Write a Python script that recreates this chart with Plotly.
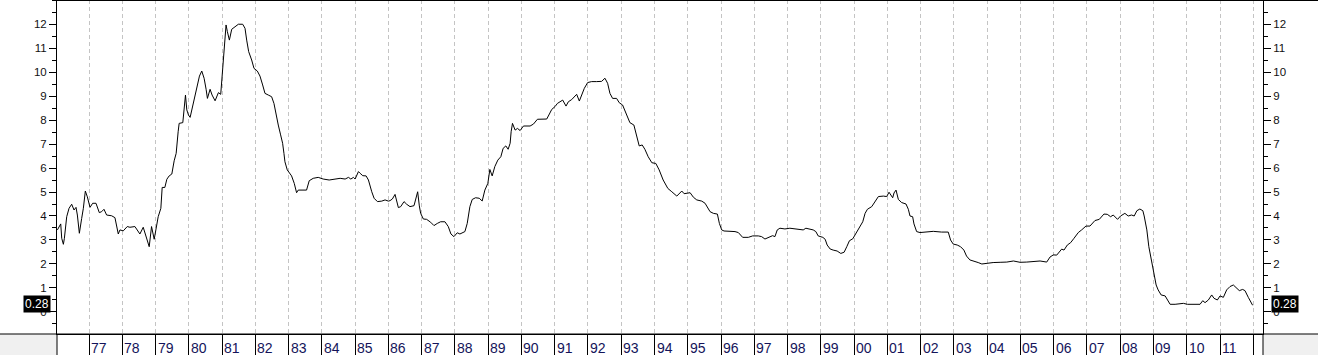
import plotly.graph_objects as go

# ---- data (decimal years, value) ----
years = [
    1976.05, 1976.11, 1976.15, 1976.18, 1976.23, 1976.26, 1976.33, 1976.40, 1976.48, 1976.55,
    1976.61, 1976.65, 1976.71, 1976.78, 1976.83, 1976.89, 1976.95, 1977.03, 1977.11, 1977.21,
    1977.31, 1977.38, 1977.45, 1977.53, 1977.68, 1977.78, 1977.83, 1977.88, 1977.93, 1978.03,
    1978.15, 1978.23, 1978.38, 1978.45, 1978.53, 1978.63, 1978.73, 1978.81, 1978.88, 1978.96,
    1979.01, 1979.08, 1979.16, 1979.20, 1979.28, 1979.34, 1979.41, 1979.49, 1979.56, 1979.62,
    1979.68, 1979.71, 1979.82, 1979.86, 1979.90, 1979.94, 1979.99, 1980.04, 1980.09, 1980.19,
    1980.24, 1980.32, 1980.39, 1980.46, 1980.52, 1980.56, 1980.64, 1980.70, 1980.79, 1980.89,
    1980.96, 1981.02, 1981.06, 1981.12, 1981.16, 1981.22, 1981.29, 1981.39, 1981.49, 1981.62,
    1981.69, 1981.74, 1981.80, 1981.89, 1981.96, 1982.06, 1982.14, 1982.22, 1982.29, 1982.39,
    1982.49, 1982.56, 1982.62, 1982.69, 1982.76, 1982.82, 1982.86, 1982.89, 1982.96, 1983.09,
    1983.17, 1983.24, 1983.29, 1983.54, 1983.62, 1983.74, 1983.89, 1984.04, 1984.22, 1984.40,
    1984.55, 1984.70, 1984.80, 1984.87, 1984.95, 1985.00, 1985.10, 1985.15, 1985.23, 1985.33,
    1985.40, 1985.50, 1985.57, 1985.67, 1985.80, 1985.90, 1986.00, 1986.05, 1986.12, 1986.20,
    1986.25, 1986.30, 1986.37, 1986.47, 1986.55, 1986.65, 1986.77, 1986.82, 1986.88, 1986.93,
    1986.97, 1987.05, 1987.15, 1987.27, 1987.37, 1987.47, 1987.57, 1987.70, 1987.80, 1987.88,
    1987.97, 1988.07, 1988.15, 1988.30, 1988.37, 1988.45, 1988.52, 1988.62, 1988.73, 1988.82,
    1988.90, 1988.99, 1989.05, 1989.12, 1989.20, 1989.29, 1989.38, 1989.45, 1989.53, 1989.60,
    1989.66, 1989.69, 1989.73, 1989.81, 1989.88, 1989.96, 1990.06, 1990.26, 1990.36, 1990.48,
    1990.76, 1990.84, 1990.91, 1991.01, 1991.08, 1991.16, 1991.24, 1991.34, 1991.41, 1991.51,
    1991.58, 1991.66, 1991.74, 1991.81, 1991.89, 1991.99, 1992.11, 1992.26, 1992.41, 1992.51,
    1992.59, 1992.66, 1992.74, 1992.86, 1992.94, 1993.04, 1993.16, 1993.26, 1993.38, 1993.46,
    1993.54, 1993.63, 1993.71, 1993.81, 1993.92, 1994.04, 1994.14, 1994.26, 1994.40, 1994.52,
    1994.67, 1994.82, 1994.89, 1995.07, 1995.17, 1995.27, 1995.42, 1995.52, 1995.67, 1995.77,
    1995.89, 1995.95, 1996.02, 1996.09, 1996.27, 1996.42, 1996.52, 1996.65, 1996.82, 1996.95,
    1997.12, 1997.22, 1997.32, 1997.42, 1997.55, 1997.62, 1997.69, 1997.77, 1997.92, 1998.07,
    1998.27, 1998.47, 1998.55, 1998.67, 1998.77, 1998.85, 1998.92, 1999.06, 1999.13, 1999.19,
    1999.28, 1999.37, 1999.49, 1999.60, 1999.70, 1999.78, 1999.86, 1999.96, 2000.06, 2000.16,
    2000.26, 2000.33, 2000.40, 2000.53, 2000.63, 2000.73, 2000.88, 2000.98, 2001.05, 2001.10,
    2001.16, 2001.20, 2001.26, 2001.33, 2001.43, 2001.56, 2001.63, 2001.68, 2001.76, 2001.80,
    2001.88, 2001.98, 2002.20, 2002.38, 2002.63, 2002.83, 2002.90, 2002.98, 2003.10, 2003.20,
    2003.30, 2003.38, 2003.48, 2003.60, 2003.73, 2003.84, 2003.99, 2004.18, 2004.39, 2004.59,
    2004.79, 2004.99, 2005.19, 2005.39, 2005.59, 2005.79, 2005.89, 2005.99, 2006.09, 2006.24,
    2006.31, 2006.41, 2006.51, 2006.61, 2006.74, 2006.84, 2006.97, 2007.09, 2007.24, 2007.37,
    2007.51, 2007.61, 2007.71, 2007.79, 2007.92, 2008.01, 2008.14, 2008.24, 2008.34, 2008.42,
    2008.50, 2008.59, 2008.68, 2008.72, 2008.80, 2008.86, 2008.95, 2009.02, 2009.08, 2009.14,
    2009.23, 2009.35, 2009.41, 2009.50, 2009.65, 2009.80, 2009.90, 2010.02, 2010.40, 2010.48,
    2010.55, 2010.65, 2010.75, 2010.82, 2010.92, 2011.00, 2011.10, 2011.20, 2011.30, 2011.40,
    2011.48, 2011.58, 2011.68, 2011.75, 2011.85, 2011.98,
]
rates = [
    3.42, 3.56, 3.67, 3.07, 2.82, 3.07, 3.97, 4.32, 4.49, 4.25,
    4.36, 4.04, 3.28, 3.90, 4.32, 5.04, 4.80, 4.36, 4.53, 4.53,
    4.14, 4.18, 4.28, 4.04, 4.01, 3.93, 3.49, 3.25, 3.42, 3.38,
    3.56, 3.53, 3.56, 3.42, 3.25, 3.53, 3.07, 2.72, 3.56, 3.03,
    3.42, 3.97, 4.32, 5.19, 5.19, 5.53, 5.67, 5.75, 6.30, 6.61,
    7.51, 7.86, 7.89, 8.56, 9.04, 8.42, 8.21, 8.11, 8.42, 8.90,
    9.32, 9.83, 10.04, 9.74, 9.28, 8.90, 9.28, 9.04, 8.80, 9.14,
    9.07, 10.08, 10.92, 11.96, 11.68, 11.33, 11.78, 11.89, 11.99, 11.99,
    11.82, 11.33, 10.85, 10.50, 10.15, 10.04, 9.83, 9.46, 9.11, 9.04,
    8.97, 8.69, 8.21, 7.79, 7.38, 7.03, 6.61, 6.26, 5.92, 5.67,
    5.36, 4.97, 5.08, 5.08, 5.47, 5.57, 5.61, 5.54, 5.50, 5.54,
    5.57, 5.54, 5.61, 5.54, 5.61, 5.54, 5.85, 5.78, 5.68, 5.67,
    5.50, 5.01, 4.74, 4.60, 4.62, 4.67, 4.62, 4.64, 4.71, 4.90,
    4.67, 4.35, 4.39, 4.60, 4.49, 4.39, 4.43, 4.74, 5.01, 4.42,
    4.11, 3.875, 3.86, 3.74, 3.60, 3.69, 3.76, 3.76, 3.56, 3.25,
    3.14, 3.30, 3.25, 3.35, 3.69, 4.39, 4.69, 4.76, 4.74, 4.625,
    5.08, 5.36, 5.94, 5.67, 6.06, 6.33, 6.47, 6.82, 6.92, 6.78,
    7.03, 7.51, 7.86, 7.58, 7.65, 7.56, 7.75, 7.75, 7.83, 8.03,
    8.04, 8.25, 8.44, 8.56, 8.69, 8.76, 8.83, 8.58, 8.76, 8.85,
    8.96, 9.07, 8.79, 9.04, 9.32, 9.56, 9.60, 9.60, 9.61, 9.74,
    9.53, 9.11, 8.90, 8.90, 8.72, 8.625, 8.21, 7.89, 7.79, 7.375,
    6.92, 6.96, 6.78, 6.47, 6.22, 6.19, 5.92, 5.50, 5.15, 5.01,
    4.83, 5.04, 4.93, 4.97, 4.78, 4.67, 4.62, 4.53, 4.18, 4.11,
    4.08, 3.69, 3.42, 3.375, 3.375, 3.35, 3.31, 3.11, 3.11, 3.17,
    3.17, 3.14, 3.04, 3.10, 3.18, 3.14, 3.42, 3.49, 3.46, 3.49,
    3.44, 3.42, 3.49, 3.46, 3.42, 3.35, 3.17, 3.11, 3.03, 2.79,
    2.625, 2.58, 2.54, 2.44, 2.49, 2.72, 2.97, 3.05, 3.28, 3.56,
    3.76, 4.11, 4.28, 4.39, 4.60, 4.81, 4.83, 4.81, 4.99, 4.88,
    4.76, 4.96, 5.08, 4.69, 4.56, 4.50, 4.28, 4.00, 3.97, 3.67,
    3.35, 3.31, 3.33, 3.36, 3.33, 3.33, 3.00, 2.83, 2.79, 2.72,
    2.58, 2.33, 2.17, 2.125, 2.06, 2.00, 2.03, 2.06, 2.07, 2.08,
    2.125, 2.07, 2.08, 2.10, 2.125, 2.08, 2.29, 2.38, 2.37, 2.62,
    2.58, 2.79, 2.89, 3.07, 3.31, 3.42, 3.58, 3.58, 3.81, 3.86,
    4.08, 4.07, 3.97, 4.04, 3.86, 4.00, 4.11, 4.00, 4.04, 4.00,
    4.22, 4.29, 4.22, 4.00, 3.42, 2.72, 2.03, 1.47, 1.125, 0.92,
    0.71, 0.67, 0.53, 0.32, 0.32, 0.33, 0.36, 0.32, 0.32, 0.47,
    0.39, 0.50, 0.71, 0.57, 0.50, 0.67, 0.61, 0.92, 1.06, 1.125,
    1.03, 0.89, 0.94, 0.89, 0.61, 0.28,
]
year_ticks = list(range(1977, 2013))
year_labels = ["%02d" % (y % 100) for y in range(1977, 2012)]
y_ticks = list(range(0, 13))
last_label = "0.28"
last_value = 0.28

# ---- geometry ----
W, H = 1318, 355
ML, MR, MT, MB = 57, 55, 0, 21
PW = W - ML - MR
PH = H - MT - MB
X0, X1 = 1976.038, 2012.292
Y0, Y1 = -0.917, 13.0

fig = go.Figure()
fig.add_trace(go.Scatter(x=years, y=rates, mode="lines",
                         line=dict(color="black", width=1),
                         hoverinfo="skip", showlegend=False))
fig.add_trace(go.Scatter(x=years, y=rates, yaxis="y2", mode="lines",
                         line=dict(color="rgba(0,0,0,0)", width=1),
                         hoverinfo="skip", showlegend=False))

yax = dict(range=[Y0, Y1], tickmode="array", tickvals=y_ticks,
           ticks="outside", ticklen=7, tickwidth=1, tickcolor="black",
           minor=dict(ticks="outside", ticklen=4, tickwidth=1, tickcolor="black",
                      tickmode="linear", tick0=0, dtick=0.5, showgrid=False),
           showgrid=False, zeroline=False, showline=True, linecolor="black",
           linewidth=1, tickfont=dict(family="Liberation Sans", size=11.5, color="#111"),
           fixedrange=True)

fig.update_layout(
    width=W, height=H,
    margin=dict(l=ML, r=MR, t=MT, b=MB, pad=0),
    paper_bgcolor="white", plot_bgcolor="white",
    xaxis=dict(range=[X0, X1], tickmode="linear", tick0=1977, dtick=1,
               showgrid=True, gridcolor="#c4c4c4", gridwidth=1, griddash="4px,3px",
               ticks="outside", ticklen=MB, tickwidth=1, tickcolor="black",
               showticklabels=False, zeroline=False, showline=True,
               linecolor="black", linewidth=1, fixedrange=True),
    yaxis=yax,
    yaxis2=dict(yax, overlaying="y", side="right"),
    showlegend=False,
)

shapes = []
# grey corner boxes in the bottom band
shapes.append(dict(type="rect", xref="paper", yref="paper", x0=-ML / PW, x1=0,
                   y0=-MB / PH, y1=0, fillcolor="#f0f0f0", line=dict(width=0), layer="below"))
shapes.append(dict(type="rect", xref="paper", yref="paper", x0=1, x1=1 + MR / PW,
                   y0=-MB / PH, y1=0, fillcolor="#f0f0f0", line=dict(width=0), layer="below"))
# full-width line at the bottom of the plot
shapes.append(dict(type="line", xref="paper", yref="paper", x0=-ML / PW, x1=1 + MR / PW,
                   y0=0, y1=0, line=dict(color="black", width=1)))
# axis lines continuing into the bottom band
for xp in (0, 1):
    shapes.append(dict(type="line", xref="paper", yref="paper", x0=xp, x1=xp,
                       y0=-MB / PH, y1=0, line=dict(color="black", width=1)))
# top border
shapes.append(dict(type="line", xref="paper", yref="paper", x0=0, x1=1 + MR / PW,
                   y0=1 - 0.5 / PH, y1=1 - 0.5 / PH, line=dict(color="black", width=1)))
fig.update_layout(shapes=shapes)

ann = []
for yv, lab in zip(year_ticks, year_labels):
    ann.append(dict(x=yv, xref="x", y=-(348 - PH) / PH * -1 if False else -14 / PH,
                    yref="paper", text=lab, showarrow=False, xanchor="left",
                    yanchor="middle", xshift=1, borderpad=0,
                    font=dict(family="Liberation Sans Narrow, Liberation Sans", size=14,
                              color="#14145a")))
for xp, anchor, shift in ((0, "right", -6), (1, "left", 8)):
    ann.append(dict(x=xp, xref="paper", y=last_value, yref="y", text=last_label,
                    showarrow=False, xanchor=anchor, yanchor="middle", xshift=shift,
                    yshift=1, bgcolor="black", borderpad=1,
                    font=dict(family="Liberation Sans", size=12, color="white")))
fig.update_layout(annotations=ann)

fig.write_html("out.html")
